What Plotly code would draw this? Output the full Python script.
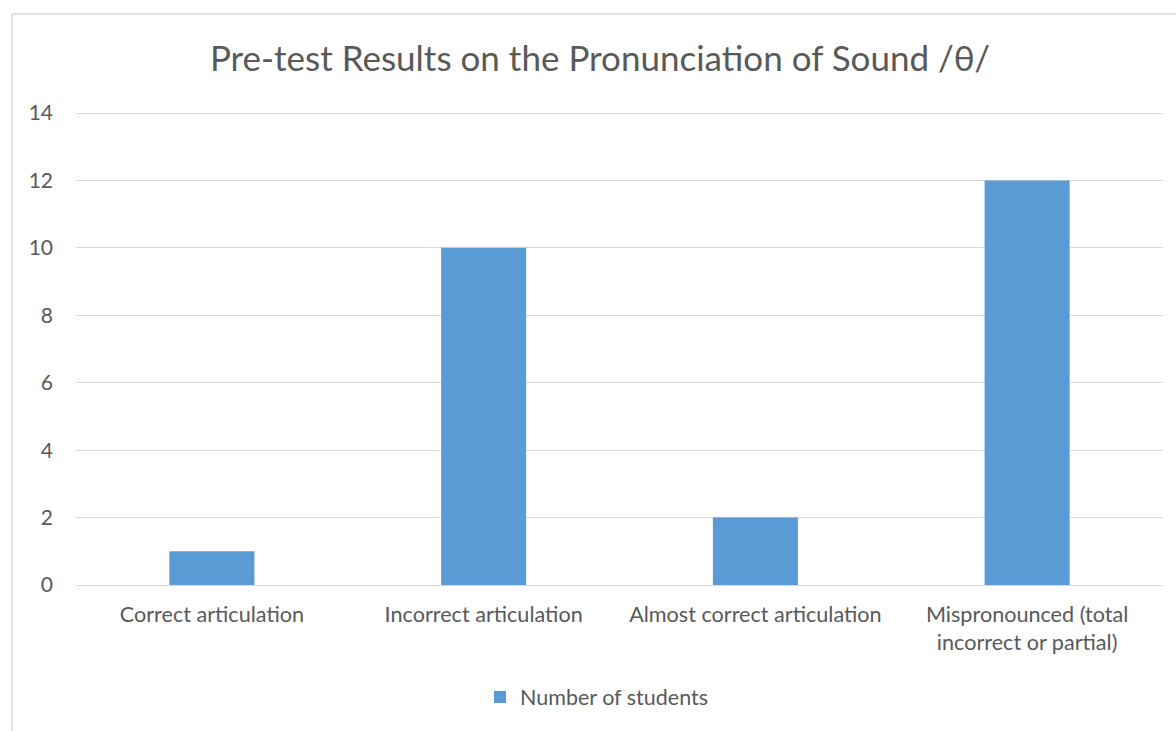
import plotly.graph_objects as go

categories = ["Correct articulation", "Incorrect articulation",
              "Almost correct articulation", "Mispronounced (total incorrect or partial)"]
tick_labels = ["Correct articulation", "Incorrect articulation",
               "Almost correct articulation", "Mispronounced (total<br>incorrect or partial)"]
students = [1, 10, 2, 12]
series_name = "Number of students"
y_ticks = [0, 2, 4, 6, 8, 10, 12, 14]

FONT = "Lato"
W, H = 1176, 731
L, R, T, B = 76, 13, 112, 146

fig = go.Figure()
fig.add_trace(go.Bar(x=categories, y=students, name=series_name,
                     marker=dict(color="#5b9bd5", line=dict(width=0)),
                     showlegend=True))

pw = W - L - R
ph = H - T - B
fig.update_layout(
    width=W, height=H,
    margin=dict(l=L, r=R, t=T, b=B),
    paper_bgcolor="white", plot_bgcolor="white",
    font=dict(family=FONT, color="#595959", size=22),
    title=dict(text="Pre-test Results on the Pronunciation of Sound /θ/",
               x=600 / W, xanchor="center", y=1 - 59 / H, yanchor="middle",
               font=dict(family=FONT, size=35, color="#595959")),
    bargap=0.687,
    xaxis=dict(tickmode="array", tickvals=categories, ticktext=tick_labels,
               showgrid=False, showline=True, linecolor="#d9d9d9", linewidth=1,
               ticks="", ticklabelstandoff=10, tickfont=dict(size=21.6, color="#595959")),
    yaxis=dict(range=[0, 14.03], tickvals=y_ticks, showgrid=True, gridcolor="#d9d9d9",
               gridwidth=1, zeroline=False, showline=False, ticks="",
               ticklabelstandoff=22, tickfont=dict(size=21, color="#595959")),
    legend=dict(orientation="h", x=597 / W, xanchor="center", xref="container",
                y=1 - 697 / H, yanchor="middle", yref="container",
                font=dict(size=21.5, color="#595959"), itemwidth=30),
    shapes=[dict(type="rect", xref="paper", yref="paper",
                 x0=(12 - L) / pw, x1=(W + 20 - L) / pw,
                 y0=-(H + 20 - T - ph) / ph, y1=1 + (T - 14) / ph,
                 line=dict(color="#d9d9d9", width=1.5), fillcolor="rgba(0,0,0,0)",
                 layer="below")],
)

fig.write_html("out.html")
